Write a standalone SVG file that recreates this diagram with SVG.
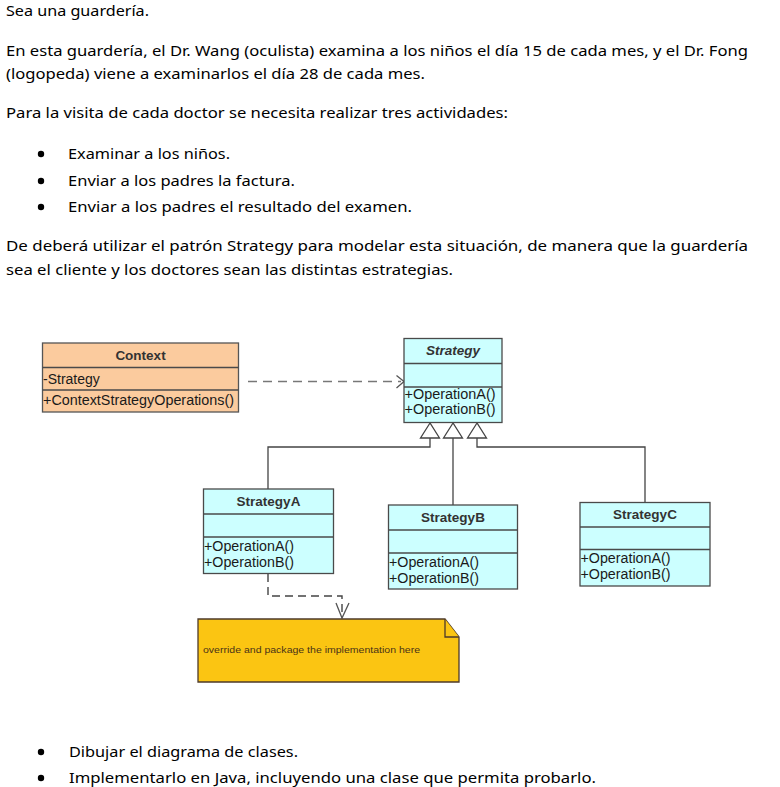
<svg xmlns="http://www.w3.org/2000/svg" width="780" height="787" viewBox="0 0 780 787">
<defs>
<style>
.t{font-family:"Noto Sans","Open Sans","Liberation Sans",sans-serif;font-size:15px;fill:#000}
.u{font-family:"Liberation Sans",Arial,sans-serif;font-size:14px;fill:#1a1a1a}
.h{font-family:"Liberation Sans",Arial,sans-serif;font-size:13.5px;font-weight:bold;fill:#333;text-anchor:middle}
.ctx{fill:#FBCB9E;stroke:#555;stroke-width:1.3}
.cls{fill:#CCFFFF;stroke:#4a4a4a;stroke-width:1.3}
.sep{stroke:#4a4a4a;stroke-width:1.3}
.gen{fill:none;stroke:#444;stroke-width:1.3}
.tri{fill:#fff;stroke:#444;stroke-width:1.3}
.dep{fill:none;stroke:#777;stroke-width:1.5;stroke-dasharray:9 6}
.dep2{fill:none;stroke:#444;stroke-width:1.4;stroke-dasharray:8 5}
.arr{fill:none;stroke:#555;stroke-width:1.3}
.note{fill:#FBC512;stroke:#4d3a2a;stroke-width:1.3}
.nt{font-family:"Liberation Sans",Arial,sans-serif;font-size:8.5px;fill:#4a3318}
</style>
</defs>
<rect width="780" height="787" fill="#fff"/>

<g id="text">
<text class="t" x="6" y="16" textLength="143" lengthAdjust="spacingAndGlyphs">Sea una guardería.</text>
<text class="t" x="6" y="56" textLength="742" lengthAdjust="spacingAndGlyphs">En esta guardería, el Dr. Wang (oculista) examina a los niños el día 15 de cada mes, y el Dr. Fong</text>
<text class="t" x="6" y="79" textLength="419" lengthAdjust="spacingAndGlyphs">(logopeda) viene a examinarlos el día 28 de cada mes.</text>
<text class="t" x="6" y="118" textLength="502" lengthAdjust="spacingAndGlyphs">Para la visita de cada doctor se necesita realizar tres actividades:</text>
<circle cx="41" cy="154" r="3.2" fill="#000"/>
<text class="t" x="68" y="159" textLength="162" lengthAdjust="spacingAndGlyphs">Examinar a los niños.</text>
<circle cx="41" cy="181" r="3.2" fill="#000"/>
<text class="t" x="68" y="186" textLength="227" lengthAdjust="spacingAndGlyphs">Enviar a los padres la factura.</text>
<circle cx="41" cy="207" r="3.2" fill="#000"/>
<text class="t" x="68" y="212" textLength="344" lengthAdjust="spacingAndGlyphs">Enviar a los padres el resultado del examen.</text>
<text class="t" x="6" y="251" textLength="742" lengthAdjust="spacingAndGlyphs">De deberá utilizar el patrón Strategy para modelar esta situación, de manera que la guardería</text>
<text class="t" x="6" y="275" textLength="447" lengthAdjust="spacingAndGlyphs">sea el cliente y los doctores sean las distintas estrategias.</text>
<circle cx="41" cy="752" r="3.2" fill="#000"/>
<text class="t" x="69" y="757" textLength="229" lengthAdjust="spacingAndGlyphs">Dibujar el diagrama de clases.</text>
<circle cx="41" cy="778" r="3.2" fill="#000"/>
<text class="t" x="69" y="783" textLength="527" lengthAdjust="spacingAndGlyphs">Implementarlo en Java, incluyendo una clase que permita probarlo.</text>
</g>

<g id="connectors">
<path class="dep" d="M248,381.5 H401"/>
<path class="arr" d="M396.5,375.5 L404,381.5 L396.5,388"/>
<path class="gen" d="M430,438 V447 H268 V489"/>
<path class="gen" d="M453,438 V505"/>
<path class="gen" d="M477,438 V447 H645 V502"/>
<polygon class="tri" points="430,423 420.5,438 439.5,438"/>
<polygon class="tri" points="453,423 443.5,438 462.5,438"/>
<polygon class="tri" points="477,423 467.5,438 486.5,438"/>
<path class="dep2" d="M268,574 V596 H342 V616"/>
<path class="arr" d="M336,603 L342,618 L349,603"/>
</g>

<g id="Context">
<rect class="ctx" x="42.5" y="343" width="196" height="69"/>
<line class="sep" x1="42.5" y1="367.5" x2="238.5" y2="367.5"/>
<line class="sep" x1="42.5" y1="390" x2="238.5" y2="390"/>
<text class="h" x="140.5" y="359.5">Context</text>
<text class="u" x="43" y="383.5">-Strategy</text>
<text class="u" x="43" y="405" textLength="191" lengthAdjust="spacingAndGlyphs">+ContextStrategyOperations()</text>
</g>

<g id="Strategy">
<rect class="cls" x="404" y="338.5" width="98" height="84"/>
<line class="sep" x1="404" y1="363.5" x2="502" y2="363.5"/>
<line class="sep" x1="404" y1="387" x2="502" y2="387"/>
<text class="h" x="453" y="355" font-style="italic">Strategy</text>
<text class="u" x="404.5" y="398.5" textLength="91" lengthAdjust="spacingAndGlyphs">+OperationA()</text>
<text class="u" x="404.5" y="414" textLength="91" lengthAdjust="spacingAndGlyphs">+OperationB()</text>
</g>

<g id="StrategyA">
<rect class="cls" x="203.5" y="489" width="130" height="84.5"/>
<line class="sep" x1="203.5" y1="514" x2="333.5" y2="514"/>
<line class="sep" x1="203.5" y1="537" x2="333.5" y2="537"/>
<text class="h" x="268.5" y="506">StrategyA</text>
<text class="u" x="204" y="551" textLength="90" lengthAdjust="spacingAndGlyphs">+OperationA()</text>
<text class="u" x="204" y="567" textLength="90" lengthAdjust="spacingAndGlyphs">+OperationB()</text>
</g>

<g id="StrategyB">
<rect class="cls" x="388.5" y="505" width="129" height="84"/>
<line class="sep" x1="388.5" y1="530" x2="517.5" y2="530"/>
<line class="sep" x1="388.5" y1="553" x2="517.5" y2="553"/>
<text class="h" x="453" y="522">StrategyB</text>
<text class="u" x="389" y="567" textLength="90" lengthAdjust="spacingAndGlyphs">+OperationA()</text>
<text class="u" x="389" y="583" textLength="90" lengthAdjust="spacingAndGlyphs">+OperationB()</text>
</g>

<g id="StrategyC">
<rect class="cls" x="580" y="502.5" width="130" height="83.5"/>
<line class="sep" x1="580" y1="527" x2="710" y2="527"/>
<line class="sep" x1="580" y1="549.5" x2="710" y2="549.5"/>
<text class="h" x="645" y="519">StrategyC</text>
<text class="u" x="580.5" y="563" textLength="90" lengthAdjust="spacingAndGlyphs">+OperationA()</text>
<text class="u" x="580.5" y="579" textLength="90" lengthAdjust="spacingAndGlyphs">+OperationB()</text>
</g>

<g id="Note">
<polygon class="note" points="198,619 445,619 459,637 459,682 198,682"/>
<path class="note" d="M445,619 V637 H459"/>
<text class="nt" x="203" y="653" textLength="217" lengthAdjust="spacingAndGlyphs">override and package the implementation here</text>
</g>
</svg>
